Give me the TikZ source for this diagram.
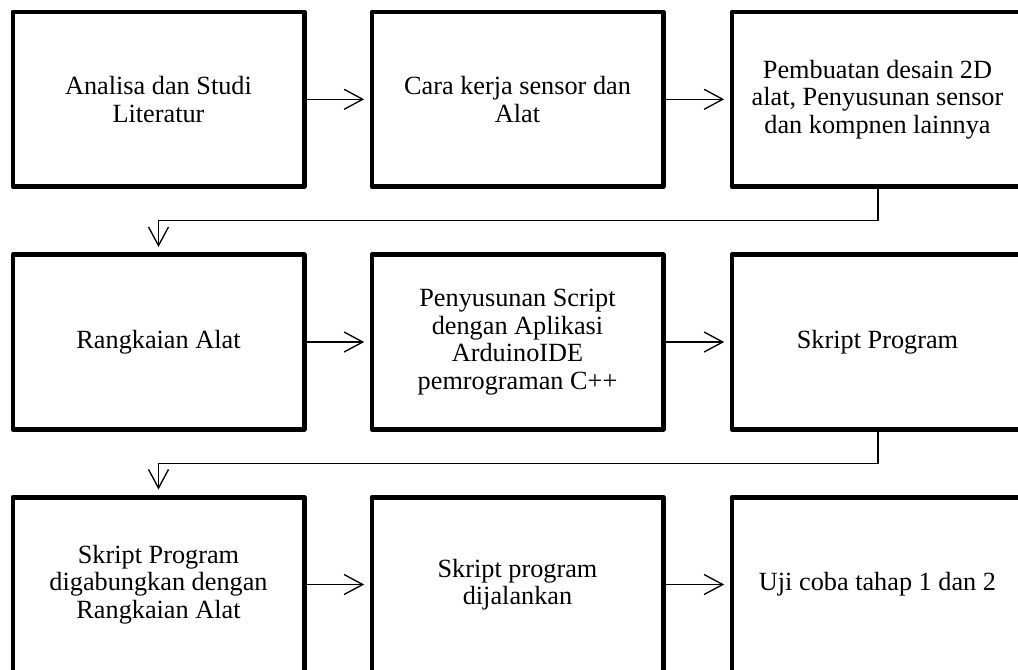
\documentclass[tikz,border=0pt]{standalone}
\usepackage{fontspec}
\setmainfont{Liberation Serif}
\usetikzlibrary{arrows.meta}
\begin{document}
\begin{tikzpicture}[x=0.75pt,y=-0.75pt,
  stepbox/.style={draw, line width=3.5pt, line join=round, rectangle,
    minimum width=218.5pt, minimum height=131pt, inner sep=0pt, align=center,
    font=\fontsize{19.7pt}{20.6pt}\selectfont},
  conn/.style={line width=1pt, -{Straight Barb[length=14pt,width=15pt,line width=1pt]}},
  flowarrow/.style={conn, shorten >=4pt}]
\clip (0,0) rectangle (1018,669);
\useasboundingbox (0,0) rectangle (1018,669);
\node[stepbox] (b1) at (158.5,99.3) {Analisa dan Studi\\Literatur};
\node[stepbox] (b2) at (517.5,99.3) {Cara kerja sensor dan\\Alat};
\node[stepbox] (b3) at (877.5,99.3) {Pembuatan desain 2D\\alat, Penyusunan sensor\\dan kompnen lainnya};
\node[stepbox] (b4) at (158.5,342) {Rangkaian Alat};
\node[stepbox] (b5) at (517.5,342) {Penyusunan Script\\dengan Aplikasi\\ArduinoIDE\\pemrograman C++};
\node[stepbox] (b6) at (877.5,342) {Skript Program};
\node[stepbox] (b7) at (158.5,584.5) {Skript Program\\digabungkan dengan\\Rangkaian Alat};
\node[stepbox] (b8) at (517.5,584.5) {Skript program\\dijalankan};
\node[stepbox] (b9) at (877.5,584.5) {Uji coba tahap 1 dan 2};
\draw[flowarrow] (b1) -- (b2);
\draw[flowarrow] (b2) -- (b3);
\draw[flowarrow] (b4) -- (b5);
\draw[flowarrow] (b5) -- (b6);
\draw[flowarrow] (b7) -- (b8);
\draw[flowarrow] (b8) -- (b9);
\coordinate (e1) at (878,220.5);
\coordinate (e2) at (158.5,220.5);
\draw[flowarrow] (b3.south -| e1) -- (e1) -- (e2) -- (b4.north);
\coordinate (f1) at (878,463.5);
\coordinate (f2) at (158.5,463.5);
\draw[flowarrow] (b6.south -| f1) -- (f1) -- (f2) -- (b7.north);
\end{tikzpicture}
\end{document}
